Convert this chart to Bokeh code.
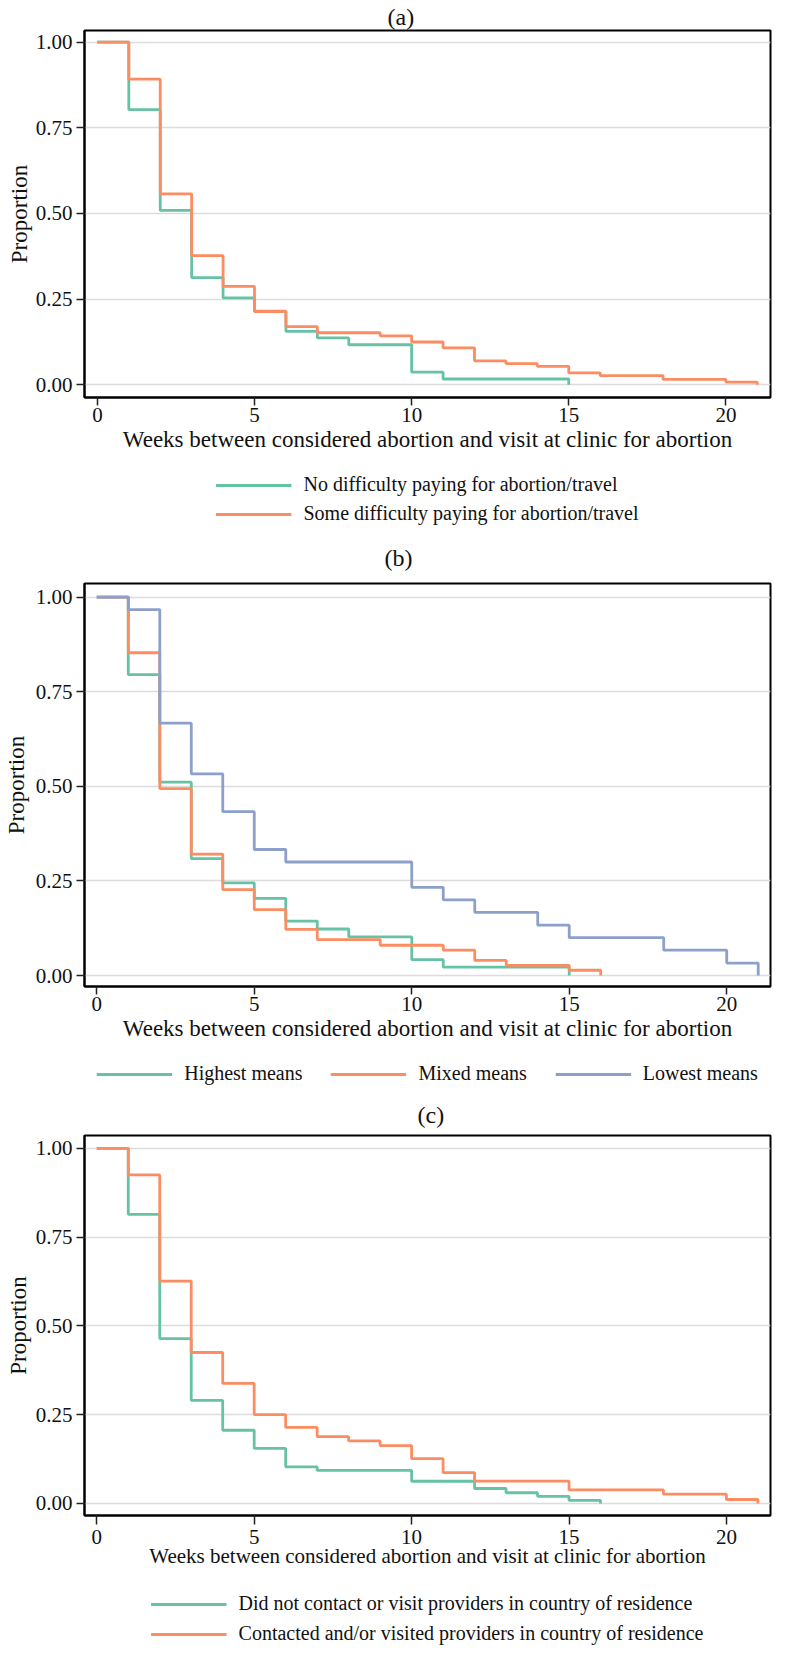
from bokeh.plotting import figure
from bokeh.layouts import column
from bokeh.models import (Legend, LegendItem, FixedTicker, PrintfTickFormatter,
                          Range1d, Title)
from bokeh.embed import file_html
from bokeh.resources import INLINE

# ---------------- data ----------------
panel_titles = ["(a)", "(b)", "(c)"]
x_ticks = [0, 5, 10, 15, 20]
y_ticks = [0.0, 0.25, 0.5, 0.75, 1.0]
x_axis_title = "Weeks between considered abortion and visit at clinic for abortion"
y_axis_title = "Proportion"

# Panel (a)
a_labels = ["No difficulty paying for abortion/travel",
            "Some difficulty paying for abortion/travel"]
a_weeks_no = [0, 1, 2, 3, 4, 5, 6, 7, 8, 10, 11, 15]
a_prop_no = [1.0, 0.803, 0.509, 0.313, 0.254, 0.215, 0.156, 0.137, 0.117, 0.037, 0.017, 0.0]
a_weeks_some = [0, 1, 2, 3, 4, 5, 6, 7, 9, 10, 11, 12, 13, 14, 15, 16, 18, 20, 21]
a_prop_some = [1.0, 0.892, 0.557, 0.377, 0.287, 0.214, 0.170, 0.152, 0.143, 0.125,
               0.108, 0.070, 0.062, 0.054, 0.035, 0.027, 0.016, 0.008, 0.0]

# Panel (b)
b_labels = ["Highest means", "Mixed means", "Lowest means"]
b_weeks_high = [0, 1, 2, 3, 4, 5, 6, 7, 8, 10, 11, 15]
b_prop_high = [1.0, 0.795, 0.511, 0.309, 0.245, 0.204, 0.144, 0.123, 0.102, 0.042, 0.022, 0.0]
b_weeks_mixed = [0, 1, 2, 3, 4, 5, 6, 7, 9, 11, 12, 13, 15, 16]
b_prop_mixed = [1.0, 0.853, 0.494, 0.321, 0.227, 0.174, 0.122, 0.095, 0.080, 0.067,
                0.040, 0.027, 0.014, 0.0]
b_weeks_low = [0, 1, 2, 3, 4, 5, 6, 10, 11, 12, 14, 15, 18, 20, 21]
b_prop_low = [1.0, 0.967, 0.667, 0.533, 0.433, 0.333, 0.300, 0.233, 0.200, 0.167,
              0.133, 0.100, 0.067, 0.033, 0.0]

# Panel (c)
c_labels = ["Did not contact or visit providers in country of residence",
            "Contacted and/or visited providers in country of residence"]
c_weeks_not = [0, 1, 2, 3, 4, 5, 6, 7, 10, 12, 13, 14, 15, 16]
c_prop_not = [1.0, 0.814, 0.464, 0.290, 0.206, 0.155, 0.103, 0.093, 0.0625, 0.042,
              0.030, 0.020, 0.0085, 0.0]
c_weeks_cont = [0, 1, 2, 3, 4, 5, 6, 7, 8, 9, 10, 11, 12, 15, 18, 20, 21]
c_prop_cont = [1.0, 0.925, 0.626, 0.425, 0.338, 0.250, 0.214, 0.188, 0.176, 0.163,
               0.126, 0.087, 0.063, 0.038, 0.026, 0.011, 0.0]

GREEN, ORANGE, BLUE = "#66c2a5", "#fc8d62", "#8da0cb"
FONT = "Liberation Serif"
TXT = "#111111"
LW = 2.8
NAN = float("nan")


def make_panel(title, series, colors, cfg):
    p = figure(width=780, height=cfg["height"], output_backend="svg",
               toolbar_location=None,
               x_range=Range1d(*cfg["xr"]), y_range=Range1d(*cfg["yr"]),
               min_border_left=cfg["left"], min_border_right=cfg["right"],
               min_border_top=cfg["top"], min_border_bottom=cfg["bottom"],
               background_fill_color="white", border_fill_color="white")
    p.title = Title(text=title, align="left", offset=cfg["title_offset"],
                    standoff=cfg["title_standoff"], text_font=FONT,
                    text_font_size="24px", text_font_style="normal",
                    text_color=TXT)
    p.outline_line_color = "black"
    p.outline_line_width = 2
    p.xgrid.visible = False
    p.ygrid.ticker = FixedTicker(ticks=y_ticks)
    p.ygrid.grid_line_color = "#dcdcdc"
    p.ygrid.grid_line_width = 1.6

    xa, ya = p.xaxis[0], p.yaxis[0]
    xa.ticker = FixedTicker(ticks=x_ticks)
    ya.ticker = FixedTicker(ticks=y_ticks)
    ya.formatter = PrintfTickFormatter(format="%.2f")
    xa.axis_label = x_axis_title
    ya.axis_label = y_axis_title
    for ax in (xa, ya):
        ax.axis_line_color = "black"
        ax.axis_line_width = 2
        ax.major_tick_line_color = "#222222"
        ax.major_tick_line_width = 1.5
        ax.major_tick_in = 0
        ax.minor_tick_line_color = None
        ax.major_label_text_font = FONT
        ax.major_label_text_font_size = "21px"
        ax.major_label_text_color = TXT
        ax.axis_label_text_font = FONT
        ax.axis_label_text_font_style = "normal"
        ax.axis_label_text_color = TXT
    xa.major_tick_out = cfg["xtick_out"]
    ya.major_tick_out = 8
    xa.major_label_standoff = cfg["xlab_standoff"]
    ya.major_label_standoff = 4
    xa.axis_label_standoff = cfg["xtitle_standoff"]
    ya.axis_label_standoff = cfg["ytitle_standoff"]
    xa.axis_label_text_font_size = cfg["xtitle_size"]
    ya.axis_label_text_font_size = "23px"

    for (wk, pr), col in zip(series, colors):
        p.step(x=wk, y=pr, mode="after", line_color=col, line_width=LW)
    return p


def make_legend(labels, colors, cfg):
    lf = figure(width=780, height=cfg["height"], output_backend="svg",
                toolbar_location=None, x_range=Range1d(0, 1), y_range=Range1d(0, 1),
                x_axis_location=None, y_axis_location=None,
                min_border_left=cfg["left"], min_border_right=cfg["right"],
                min_border_top=0, min_border_bottom=0,
                outline_line_color=None, background_fill_color="white",
                border_fill_color="white")
    lf.grid.visible = False
    items = []
    for lab, col in zip(labels, colors):
        # legend key only: a line with no drawable point
        r = lf.line(x=[NAN], y=[NAN], line_color=col, line_width=LW)
        items.append(LegendItem(label=lab, renderers=[r]))
    legend = Legend(items=items, location="bottom_center",
                    orientation=cfg["orient"],
                    label_text_font=FONT, label_text_font_size="20px",
                    label_text_color=TXT,
                    glyph_width=76, glyph_height=22, label_height=22,
                    label_standoff=12,
                    spacing=cfg["spacing"], padding=0, margin=0,
                    border_line_color=None, background_fill_alpha=0)
    lf.add_layout(legend, "center")
    return lf


pa = make_panel(panel_titles[0],
                [(a_weeks_no, a_prop_no), (a_weeks_some, a_prop_some)],
                [GREEN, ORANGE],
                dict(height=467, left=76, right=10, top=23, bottom=70,
                     xr=(-0.41, 21.42), yr=(-0.037, 1.034),
                     title_offset=303, title_standoff=2,
                     xtick_out=8, xlab_standoff=2, xtitle_standoff=2,
                     ytitle_standoff=1, xtitle_size="23px"))
la = make_legend(a_labels, [GREEN, ORANGE],
                 dict(height=58, left=76, right=10, orient="vertical", spacing=6))

pb = make_panel(panel_titles[1],
                [(b_weeks_high, b_prop_high), (b_weeks_mixed, b_prop_mixed),
                 (b_weeks_low, b_prop_low)],
                [GREEN, ORANGE, BLUE],
                dict(height=531, left=79, right=5, top=58, bottom=70,
                     xr=(-0.39, 21.39), yr=(-0.029, 1.036),
                     title_offset=300, title_standoff=25,
                     xtick_out=8, xlab_standoff=2, xtitle_standoff=2,
                     ytitle_standoff=4, xtitle_size="23px"))
lb = make_legend(b_labels, [GREEN, ORANGE, BLUE],
                 dict(height=29, left=79, right=5, orient="horizontal", spacing=28))

pc = make_panel(panel_titles[2],
                [(c_weeks_not, c_prop_not), (c_weeks_cont, c_prop_cont)],
                [GREEN, ORANGE],
                dict(height=490, left=77, right=2, top=50, bottom=60,
                     xr=(-0.39, 21.4), yr=(-0.034, 1.036),
                     title_offset=333, title_standoff=15,
                     xtick_out=9, xlab_standoff=5, xtitle_standoff=-3,
                     ytitle_standoff=2, xtitle_size="21px"))
lc = make_legend(c_labels, [GREEN, ORANGE],
                 dict(height=70, left=77, right=2, orient="vertical", spacing=7))

layout = column(pa, la, pb, lb, pc, lc, spacing=0)
open("out.html", "w").write(file_html(layout, INLINE))
